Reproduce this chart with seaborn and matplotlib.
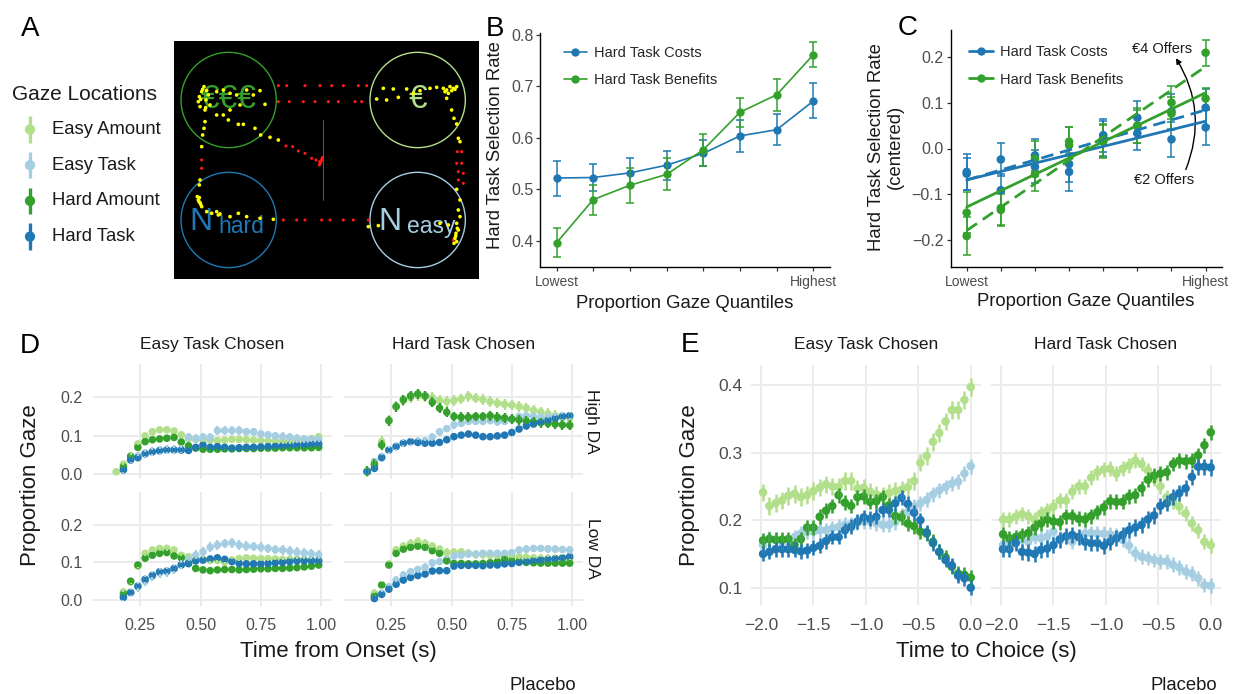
import numpy as np
import pandas as pd
import matplotlib
matplotlib.use("Agg")
import matplotlib.pyplot as plt
import seaborn as sns
from matplotlib.patches import Circle
from matplotlib.lines import Line2D

sns.set_theme(style="white")
plt.rcParams["font.family"] = ["Liberation Sans", "DejaVu Sans"]
plt.rcParams["axes.unicode_minus"] = True

nan = np.nan
# ------------------------------------------------------------------ data
location_names = ["Easy Amount", "Easy Task", "Hard Amount", "Hard Task"]
location_colors = ["#b2df8a", "#a6cee3", "#33a02c", "#1f78b4"]
palette = dict(zip(location_names, location_colors))

# Panel A: AOIs on the screen and one example gaze trace (screen units)
screen_w, screen_h = 915, 715
aoi_x = [164, 731, 164, 731]
aoi_y = [177, 177, 537, 537]
aoi_r = 143
aoi_loc = ["Hard Amount", "Easy Amount", "Hard Task", "Easy Task"]
aoi_text = ["€€€", "€", "N", "N"]
aoi_sub = ["", "", "hard", "easy"]

gaze_out_x = [313, 338, 393, 438, 473, 508, 553, 578, 313, 346, 388, 423, 463, 493, 543, 563,
              436, 440, 443, 446, 438, 437, 441, 444, 336, 356, 373, 393, 413, 426, 83, 83,
              328, 368, 393, 443, 468, 508, 538, 583, 850, 863, 848, 863, 853, 868, 853, 868, 838]
gaze_out_y = [134, 134, 134, 134, 134, 134, 134, 134, 182, 182, 182, 182, 182, 182, 182, 182,
              372, 365, 357, 349, 369, 362, 360, 353, 315, 317, 330, 337, 352, 357, 357, 382,
              537, 537, 537, 537, 537, 537, 537, 537, 332, 332, 367, 367, 392, 397, 417, 427, 597]
gaze_in_x = [90, 83, 76, 73, 78, 93, 98, 103, 96, 108, 86, 80, 95,
             128, 148, 168, 188, 218, 238, 258, 273, 198, 168, 148, 128, 163, 193, 208, 243, 260, 288, 313,
             93, 90, 86, 83,
             608, 628, 638, 658, 673, 698, 718, 738, 768, 788, 808, 818, 828, 838, 848, 823, 813, 833, 843,
             818, 833, 840, 848, 853, 858,
             848, 858, 853, 858,
             848, 850, 846, 843, 840, 848, 853, 845, 823, 798, 613, 583,
             78, 76, 70, 75, 83, 73, 78, 98, 113, 128, 133, 138, 168, 193, 218, 258, 298, 76, 80]
gaze_in_y = [137, 152, 167, 182, 197, 207, 149, 162, 177, 192, 145, 175, 200,
             152, 147, 157, 162, 147, 162, 149, 190, 192, 207, 222, 222, 237, 250, 250, 262, 282, 289, 297,
             242, 262, 282, 317,
             174, 142, 177, 144, 169, 144, 157, 149, 142, 139, 142, 147, 137, 142, 137, 157, 152, 149, 145,
             172, 207, 232, 249, 292, 302,
             445, 477, 507, 527,
             547, 562, 577, 592, 607, 602, 567, 585, 552, 547, 554, 557,
             417, 432, 467, 482, 497, 477, 485, 512, 517, 512, 522, 519, 527, 517, 527, 532, 535, 470, 490]
cross_x = [448, 448]
cross_y = [237, 477]

# Panel B: hard-task selection rate by proportion-gaze quantile
quantile_idx = [0, 1, 2, 3, 4, 5, 6, 7]
quantile_labels = ["Lowest", "", "", "", "", "", "", "Highest"]
costs_rate = [0.522, 0.523, 0.532, 0.547, 0.570, 0.604, 0.616, 0.672]
costs_se = [0.034, 0.026, 0.028, 0.028, 0.025, 0.031, 0.030, 0.034]
benefits_rate = [0.396, 0.480, 0.508, 0.529, 0.577, 0.650, 0.684, 0.762]
benefits_se = [0.028, 0.029, 0.034, 0.031, 0.031, 0.028, 0.031, 0.025]

# Panel C: centered selection rate, by offer amount
costs_2 = [-0.051, -0.091, -0.015, -0.034, 0.022, 0.067, 0.020, 0.046]
costs_4 = [-0.055, -0.024, -0.040, -0.051, 0.029, 0.033, 0.081, 0.089]
benefits_2 = [-0.140, -0.130, -0.022, 0.015, 0.018, 0.050, 0.076, 0.109]
benefits_4 = [-0.191, -0.134, -0.056, 0.007, 0.015, 0.049, 0.100, 0.209]
costs_2_se = [0.040, 0.036, 0.035, 0.040, 0.038, 0.036, 0.038, 0.038]
costs_4_se = [0.035, 0.036, 0.036, 0.042, 0.036, 0.036, 0.038, 0.040]
benefits_2_se = [0.045, 0.036, 0.038, 0.032, 0.036, 0.038, 0.036, 0.022]
benefits_4_se = [0.042, 0.034, 0.036, 0.040, 0.036, 0.036, 0.036, 0.028]

# Panel D: proportion gaze by time from onset
onset_time = [0.15, 0.18, 0.21, 0.24, 0.27, 0.30, 0.33, 0.36, 0.39, 0.42, 0.45, 0.48, 0.51, 0.54,
              0.57, 0.60, 0.63, 0.66, 0.69, 0.72, 0.75, 0.78, 0.81, 0.84, 0.87, 0.90, 0.93, 0.96, 0.99]
onset_easy_high = {
    "Easy Amount": [0.005, 0.025, 0.047, 0.078, 0.099, 0.110, 0.115, 0.115, 0.112, 0.102, 0.092, 0.090, 0.088, 0.088, 0.087,
                    0.088, 0.090, 0.090, 0.089, 0.088, 0.087, 0.086, 0.086, 0.085, 0.085, 0.086, 0.088, 0.092, 0.097],
    "Easy Task": [nan, 0.012, 0.040, 0.046, 0.054, 0.058, 0.062, 0.063, 0.063, 0.064, 0.096, 0.092, 0.096, 0.095, 0.113,
                  0.113, 0.113, 0.113, 0.110, 0.110, 0.104, 0.102, 0.099, 0.097, 0.096, 0.092, 0.091, 0.090, 0.090],
    "Hard Amount": [nan, 0.018, 0.045, 0.069, 0.084, 0.089, 0.091, 0.093, 0.095, 0.083, 0.073, 0.067, 0.064, 0.064, 0.064,
                    0.065, 0.065, 0.066, 0.066, 0.066, 0.067, 0.067, 0.067, 0.068, 0.068, 0.068, 0.068, 0.068, 0.069],
    "Hard Task": [nan, 0.010, 0.036, 0.042, 0.052, 0.057, 0.060, 0.062, 0.062, 0.062, 0.061, 0.069, 0.075, 0.069, 0.071,
                  0.069, 0.067, 0.068, 0.069, 0.069, 0.070, 0.071, 0.072, 0.073, 0.074, 0.075, 0.076, 0.077, 0.078],
}
onset_hard_high = {
    "Easy Amount": [0.005, 0.022, 0.084, 0.140, 0.176, 0.192, 0.200, 0.205, 0.202, 0.200, 0.192, 0.189, 0.192, 0.196, 0.203,
                    0.198, 0.194, 0.189, 0.185, 0.182, 0.180, 0.176, 0.172, 0.166, 0.162, 0.157, 0.152, 0.148, 0.145],
    "Easy Task": [0.007, 0.032, 0.045, 0.062, 0.072, 0.080, 0.084, 0.085, 0.086, 0.096, 0.110, 0.118, 0.128, 0.132, 0.137,
                  0.137, 0.137, 0.139, 0.136, 0.137, 0.143, 0.150, 0.152, 0.150, 0.148, 0.148, 0.150, 0.152, 0.152],
    "Hard Amount": [0.006, 0.025, 0.075, 0.139, 0.176, 0.194, 0.204, 0.209, 0.204, 0.187, 0.172, 0.161, 0.150, 0.148, 0.148,
                    0.150, 0.150, 0.152, 0.148, 0.146, 0.143, 0.141, 0.138, 0.136, 0.134, 0.132, 0.130, 0.128, 0.127],
    "Hard Task": [0.005, 0.014, 0.042, 0.062, 0.071, 0.080, 0.084, 0.082, 0.080, 0.080, 0.082, 0.089, 0.097, 0.101, 0.104,
                  0.101, 0.097, 0.097, 0.099, 0.101, 0.108, 0.117, 0.125, 0.130, 0.135, 0.140, 0.145, 0.150, 0.152],
}
onset_easy_low = {
    "Easy Amount": [nan, 0.022, 0.048, 0.090, 0.124, 0.133, 0.137, 0.137, 0.133, 0.119, 0.115, 0.110, 0.108, 0.105, 0.105,
                    0.100, 0.106, 0.110, 0.112, 0.111, 0.110, 0.110, 0.109, 0.108, 0.108, 0.108, 0.108, 0.107, 0.105],
    "Easy Task": [nan, 0.010, 0.020, 0.035, 0.050, 0.063, 0.072, 0.075, 0.082, 0.095, 0.106, 0.119, 0.128, 0.140, 0.146,
                  0.150, 0.152, 0.146, 0.143, 0.142, 0.140, 0.137, 0.134, 0.133, 0.130, 0.127, 0.125, 0.123, 0.120],
    "Hard Amount": [nan, 0.016, 0.050, 0.093, 0.111, 0.119, 0.124, 0.126, 0.117, 0.112, 0.097, 0.084, 0.080, 0.078, 0.080,
                    0.081, 0.081, 0.080, 0.081, 0.082, 0.083, 0.083, 0.084, 0.084, 0.085, 0.086, 0.088, 0.090, 0.093],
    "Hard Task": [nan, 0.007, 0.020, 0.037, 0.055, 0.066, 0.075, 0.077, 0.084, 0.093, 0.097, 0.104, 0.106, 0.109, 0.112,
                  0.108, 0.102, 0.097, 0.096, 0.096, 0.096, 0.097, 0.099, 0.100, 0.102, 0.104, 0.104, 0.104, 0.104],
}
onset_hard_low = {
    "Easy Amount": [nan, 0.018, 0.040, 0.095, 0.133, 0.143, 0.150, 0.155, 0.150, 0.143, 0.135, 0.126, 0.127, 0.128, 0.124,
                    0.121, 0.121, 0.119, 0.119, 0.117, 0.115, 0.115, 0.113, 0.112, 0.110, 0.110, 0.110, 0.110, 0.110],
    "Easy Task": [nan, 0.010, 0.018, 0.035, 0.053, 0.066, 0.075, 0.081, 0.087, 0.099, 0.102, 0.108, 0.117, 0.119, 0.122,
                  0.122, 0.124, 0.124, 0.124, 0.124, 0.126, 0.133, 0.135, 0.137, 0.137, 0.136, 0.135, 0.134, 0.133],
    "Hard Amount": [nan, 0.011, 0.040, 0.093, 0.124, 0.135, 0.140, 0.143, 0.140, 0.131, 0.124, 0.104, 0.097, 0.097, 0.096,
                    0.096, 0.097, 0.099, 0.102, 0.108, 0.104, 0.102, 0.100, 0.099, 0.098, 0.098, 0.098, 0.098, 0.098],
    "Hard Task": [nan, 0.004, 0.015, 0.029, 0.042, 0.053, 0.060, 0.065, 0.069, 0.077, 0.078, 0.078, 0.090, 0.092, 0.092,
                  0.092, 0.091, 0.093, 0.093, 0.096, 0.097, 0.100, 0.102, 0.104, 0.106, 0.108, 0.110, 0.112, 0.115],
}
onset_se = {
    ("Easy Task Chosen", "High DA"): {"Easy Amount": 0.006, "Easy Task": 0.011, "Hard Amount": 0.005, "Hard Task": 0.005},
    ("Hard Task Chosen", "High DA"): {"Easy Amount": 0.014, "Easy Task": 0.010, "Hard Amount": 0.013, "Hard Task": 0.006},
    ("Easy Task Chosen", "Low DA"): {"Easy Amount": 0.006, "Easy Task": 0.013, "Hard Amount": 0.005, "Hard Task": 0.006},
    ("Hard Task Chosen", "Low DA"): {"Easy Amount": 0.011, "Easy Task": 0.010, "Hard Amount": 0.008, "Hard Task": 0.007},
}

# Panel E: proportion gaze by time to choice
choice_time = [-1.98, -1.92, -1.86, -1.80, -1.74, -1.68, -1.62, -1.56, -1.50, -1.44, -1.38, -1.32,
               -1.26, -1.20, -1.14, -1.08, -1.02, -0.96, -0.90, -0.84, -0.78, -0.72, -0.66, -0.60,
               -0.54, -0.48, -0.42, -0.36, -0.30, -0.24, -0.18, -0.12, -0.06, 0.00]
choice_easy = {
    "Easy Amount": [0.241, 0.221, 0.225, 0.229, 0.236, 0.239, 0.234, 0.237, 0.243, 0.248, 0.253, 0.250, 0.249, 0.258, 0.258,
                    0.247, 0.248, 0.242, 0.238, 0.236, 0.240, 0.243, 0.245, 0.249, 0.258, 0.285, 0.295, 0.316, 0.329,
                    0.346, 0.363, 0.363, 0.378, 0.397],
    "Easy Task": [0.163, 0.173, 0.171, 0.168, 0.168, 0.175, 0.180, 0.183, 0.183, 0.185, 0.185, 0.188, 0.190, 0.193, 0.194,
                  0.196, 0.198, 0.198, 0.195, 0.193, 0.193, 0.197, 0.207, 0.212, 0.220, 0.225, 0.230, 0.238, 0.244,
                  0.249, 0.254, 0.257, 0.269, 0.280],
    "Hard Amount": [0.170, 0.172, 0.171, 0.171, 0.172, 0.163, 0.172, 0.189, 0.189, 0.205, 0.214, 0.221, 0.237, 0.226, 0.221,
                    0.234, 0.235, 0.227, 0.228, 0.234, 0.222, 0.206, 0.204, 0.195, 0.191, 0.183, 0.180, 0.168, 0.153,
                    0.145, 0.131, 0.121, 0.119, 0.115],
    "Hard Task": [0.150, 0.153, 0.157, 0.157, 0.157, 0.156, 0.154, 0.155, 0.159, 0.162, 0.169, 0.175, 0.175, 0.185, 0.190,
                  0.198, 0.204, 0.202, 0.205, 0.215, 0.215, 0.225, 0.233, 0.224, 0.211, 0.200, 0.182, 0.166, 0.153,
                  0.141, 0.133, 0.118, 0.114, 0.100],
}
choice_hard = {
    "Easy Amount": [0.201, 0.201, 0.205, 0.209, 0.206, 0.201, 0.210, 0.214, 0.220, 0.229, 0.229, 0.242, 0.250, 0.250, 0.263,
                    0.271, 0.275, 0.276, 0.269, 0.276, 0.281, 0.288, 0.283, 0.274, 0.261, 0.250, 0.234, 0.227, 0.220,
                    0.210, 0.195, 0.185, 0.168, 0.163],
    "Easy Task": [0.163, 0.167, 0.167, 0.171, 0.168, 0.175, 0.173, 0.176, 0.183, 0.173, 0.176, 0.168, 0.175, 0.180, 0.181,
                  0.180, 0.180, 0.179, 0.178, 0.171, 0.162, 0.151, 0.146, 0.144, 0.141, 0.139, 0.139, 0.134, 0.130,
                  0.124, 0.121, 0.114, 0.104, 0.103],
    "Hard Amount": [0.179, 0.173, 0.175, 0.178, 0.181, 0.189, 0.195, 0.201, 0.198, 0.197, 0.206, 0.206, 0.202, 0.201, 0.206,
                    0.212, 0.219, 0.228, 0.227, 0.227, 0.235, 0.237, 0.247, 0.260, 0.266, 0.269, 0.271, 0.283, 0.288,
                    0.287, 0.288, 0.296, 0.311, 0.330],
    "Hard Task": [0.157, 0.157, 0.166, 0.153, 0.152, 0.150, 0.156, 0.158, 0.163, 0.171, 0.176, 0.178, 0.175, 0.168, 0.166,
                  0.166, 0.162, 0.168, 0.173, 0.178, 0.185, 0.189, 0.193, 0.201, 0.207, 0.221, 0.225, 0.234, 0.240,
                  0.247, 0.264, 0.279, 0.279, 0.278],
}
choice_se = {
    "Easy Task Chosen": {"Easy Amount": 0.013, "Easy Task": 0.011, "Hard Amount": 0.011, "Hard Task": 0.011},
    "Hard Task Chosen": {"Easy Amount": 0.011, "Easy Task": 0.011, "Hard Amount": 0.011, "Hard Task": 0.012},
}

# ------------------------------------------------------------------ figure helpers
W, H = 1237, 694
fig = plt.figure(figsize=(W / 100, H / 100), dpi=100)
fig.patch.set_facecolor("white")
TXT = "#1a1a1a"
TICK = "#4d4d4d"


def px_axes(x0, y0, x1, y1):
    return fig.add_axes([x0 / W, 1 - y1 / H, (x1 - x0) / W, (y1 - y0) / H])


def ftext(x, y, s, **kw):
    kw.setdefault("color", TXT)
    return fig.text(x / W, 1 - y / H, s, **kw)


# ------------------------------------------------------------------ panel letters
for letter, (lx, ly) in zip("ABCDE", [(30, 29), (495, 29), (908, 28), (30, 346), (690, 345)]):
    ftext(lx, ly, letter, fontsize=20, ha="center", va="center", color="black")

# ------------------------------------------------------------------ A: legend
axl = px_axes(0, 70, 172, 262)
axl.set_xlim(0, 172)
axl.set_ylim(3.711, -1.667)
axl.axis("off")
axl.text(12, -0.97, "Gaze Locations", ha="left", va="center", fontsize=15, color=TXT)
for i, loc in enumerate(location_names):
    axl.vlines(30, i - 0.37, i + 0.37, color=palette[loc], lw=2.4)
    axl.scatter([30], [i], s=55, color=palette[loc], edgecolor="none", zorder=3)
    axl.text(52, i, loc, ha="left", va="center", fontsize=13.3, color=TXT)

# ------------------------------------------------------------------ A: gaze image
axa = px_axes(174, 41, 479, 279.3)
axa.set_facecolor("black")
axa.set_xlim(0, screen_w)
axa.set_ylim(screen_h, 0)
axa.set_xticks([])
axa.set_yticks([])
for s in axa.spines.values():
    s.set_visible(False)
for cx, cy, loc, txt, sub in zip(aoi_x, aoi_y, aoi_loc, aoi_text, aoi_sub):
    axa.add_patch(Circle((cx, cy), aoi_r, fill=False, ec=palette[loc], lw=1.0))
    if sub:
        axa.text(cx - 47, cy + 30, txt, ha="right", va="baseline", fontsize=23, color=palette[loc])
        axa.text(cx - 32, cy + 39, sub, ha="left", va="baseline", fontsize=16.5, color=palette[loc])
    else:
        axa.text(cx, cy, txt, ha="center", va="center", fontsize=24, color=palette[loc])
axa.plot(cross_x, cross_y, color="#5a5a5a", lw=0.7)
axa.scatter(gaze_out_x, gaze_out_y, s=5, color="#ff1a1a", edgecolor="none", zorder=3)
axa.scatter(gaze_in_x, gaze_in_y, s=7, color="#ffff00", edgecolor="none", zorder=3)


# ------------------------------------------------------------------ classic axes style
def classic(ax):
    ax.set_facecolor("white")
    ax.grid(False)
    for side in ["top", "right"]:
        ax.spines[side].set_visible(False)
    for side in ["left", "bottom"]:
        ax.spines[side].set_color("black")
        ax.spines[side].set_linewidth(1.0)
    ax.tick_params(direction="out", length=3, width=0.9, color="#333333",
                   labelcolor=TICK, left=True, bottom=True)


# ------------------------------------------------------------------ B
axb = px_axes(540, 33, 830, 267)
classic(axb)
df_b = pd.DataFrame({
    "quantile": quantile_idx * 2,
    "rate": costs_rate + benefits_rate,
    "se": costs_se + benefits_se,
    "type": ["Hard Task Costs"] * 8 + ["Hard Task Benefits"] * 8,
})
b_pal = {"Hard Task Costs": palette["Hard Task"], "Hard Task Benefits": palette["Hard Amount"]}
for typ in ["Hard Task Costs", "Hard Task Benefits"]:
    sub = df_b[df_b["type"] == typ]
    axb.errorbar(sub["quantile"], sub["rate"], yerr=sub["se"], fmt="none",
                 ecolor=b_pal[typ], elinewidth=1.1, capsize=2.6, capthick=1.1)
    sns.lineplot(data=sub, x="quantile", y="rate", color=b_pal[typ], marker="o",
                 markersize=6, markeredgewidth=0, linewidth=1.2, ax=axb, legend=False)
axb.set_xlim(-0.45, 7.45)
axb.set_ylim(0.349, 0.804)
axb.set_xticks(quantile_idx)
axb.set_xticklabels(quantile_labels, fontsize=10)
axb.set_yticks([0.4, 0.5, 0.6, 0.7, 0.8])
axb.set_yticklabels(["0.4", "0.5", "0.6", "0.7", "0.8"], fontsize=11.5)
axb.tick_params(axis="x", pad=3)
axb.tick_params(axis="y", pad=1.5)
axb.set_xlabel("")
axb.set_ylabel("")
hb = [Line2D([], [], color=b_pal[t], marker="o", ms=6, mew=0, lw=1.2) for t in b_pal]
axb.legend(hb, list(b_pal), loc="upper left", bbox_to_anchor=(0.082, 0.945), frameon=False,
           fontsize=10.5, handlelength=1.6, handletextpad=0.5, labelspacing=0.9,
           borderpad=0, borderaxespad=0)
ftext(685, 303, "Proportion Gaze Quantiles", fontsize=13.3, ha="center", va="center")
ftext(495, 145, "Hard Task Selection Rate", fontsize=13.3, ha="center", va="center", rotation=90)

# ------------------------------------------------------------------ C
axc = px_axes(951, 30, 1222, 267)
classic(axc)
df_c = pd.DataFrame({
    "quantile": quantile_idx * 4,
    "rate": costs_2 + costs_4 + benefits_2 + benefits_4,
    "se": costs_2_se + costs_4_se + benefits_2_se + benefits_4_se,
    "type": ["Hard Task Costs"] * 16 + ["Hard Task Benefits"] * 16,
    "offer": (["€2"] * 8 + ["€4"] * 8) * 2,
})
c_styles = [("€2", "-"), ("€4", (0, (4.5, 2.5)))]
for typ in ["Hard Task Costs", "Hard Task Benefits"]:
    for offer, ls in c_styles:
        sub = df_c[(df_c["type"] == typ) & (df_c["offer"] == offer)]
        axc.errorbar(sub["quantile"], sub["rate"], yerr=sub["se"], fmt="none",
                     ecolor=b_pal[typ], elinewidth=1.1, capsize=2.6, capthick=1.1)
        sns.scatterplot(data=sub, x="quantile", y="rate", color=b_pal[typ], s=38,
                        edgecolor="none", ax=axc, legend=False, zorder=3)
for typ in ["Hard Task Costs", "Hard Task Benefits"]:
    for offer, ls in c_styles:
        sub = df_c[(df_c["type"] == typ) & (df_c["offer"] == offer)]
        sns.regplot(data=sub, x="quantile", y="rate", scatter=False, ci=None, ax=axc,
                    color=b_pal[typ], line_kws=dict(lw=2.0, ls=ls, zorder=4))
axc.set_xlim(-0.46, 7.48)
axc.set_ylim(-0.2585, 0.2585)
axc.set_xticks(quantile_idx)
axc.set_xticklabels(quantile_labels, fontsize=10)
axc.set_yticks([-0.2, -0.1, 0.0, 0.1, 0.2])
axc.set_yticklabels(["\u22120.2", "\u22120.1", "0.0", "0.1", "0.2"], fontsize=11.5)
axc.tick_params(axis="x", pad=3)
axc.tick_params(axis="y", pad=2.5)
axc.set_xlabel("")
axc.set_ylabel("")
hc = [Line2D([], [], color=b_pal[t], marker="o", ms=6, mew=0, lw=2.0) for t in b_pal]
axc.legend(hc, list(b_pal), loc="upper left", bbox_to_anchor=(0.068, 0.935), frameon=False,
           fontsize=10.5, handlelength=1.6, handletextpad=0.5, labelspacing=0.9,
           borderpad=0, borderaxespad=0)
axc.text(5.72, 0.218, "€4 Offers", ha="center", va="center", fontsize=10.5, color=TXT)
axc.text(5.78, -0.069, "€2 Offers", ha="center", va="center", fontsize=10.5, color=TXT)
axc.annotate("", xy=(6.13, 0.197), xytext=(6.42, -0.046),
             arrowprops=dict(arrowstyle="-|>", lw=1.0, color="black", mutation_scale=8,
                             connectionstyle="arc3,rad=0.25", shrinkA=0, shrinkB=0))
ftext(1086, 302, "Proportion Gaze Quantiles", fontsize=13.3, ha="center", va="center")
ftext(886, 147, "Hard Task Selection Rate\n(centered)", fontsize=13.3, ha="center",
      va="center", rotation=90, linespacing=1.15)


# ------------------------------------------------------------------ D & E (minimal facets)
def minimal(ax, xlim, ylim, xticks, xlabels, yticks, ylabels, show_x, show_y, fs, xpad, ypad):
    ax.set_facecolor("white")
    for s in ax.spines.values():
        s.set_visible(False)
    ax.set_xlim(xlim)
    ax.set_ylim(ylim)
    ax.set_xticks(xticks)
    ax.set_yticks(yticks)
    ax.set_xticklabels(xlabels if show_x else [""] * len(xticks), fontsize=fs)
    ax.set_yticklabels(ylabels if show_y else [""] * len(yticks), fontsize=fs)
    ax.grid(True, color="#ebebeb", lw=1.4)
    ax.set_axisbelow(True)
    ax.tick_params(length=0, labelcolor=TICK, left=False, bottom=False)
    ax.tick_params(axis="x", pad=xpad)
    ax.tick_params(axis="y", pad=ypad)
    ax.set_xlabel("")
    ax.set_ylabel("")


def gaze_facet(ax, times, series, se_map, size, lw):
    df = pd.DataFrame([(t, loc, v) for loc in location_names for t, v in zip(times, series[loc])],
                      columns=["time", "location", "prop"]).dropna()
    for loc in location_names:
        sub = df[df["location"] == loc]
        ax.vlines(sub["time"], sub["prop"] - se_map[loc], sub["prop"] + se_map[loc],
                  color=palette[loc], lw=lw)
        sns.scatterplot(data=sub, x="time", y="prop", color=palette[loc], s=size,
                        edgecolor="none", linewidth=0, ax=ax, legend=False)


d_cols = ["Easy Task Chosen", "Hard Task Chosen"]
d_rows = ["High DA", "Low DA"]
d_series = {("Easy Task Chosen", "High DA"): onset_easy_high, ("Hard Task Chosen", "High DA"): onset_hard_high,
            ("Easy Task Chosen", "Low DA"): onset_easy_low, ("Hard Task Chosen", "Low DA"): onset_hard_low}
d_x = [(93.3, 331.7), (344.3, 582.7)]
d_y = [(364, 479.3), (491.7, 605.6)]
for ci, col in enumerate(d_cols):
    for ri, row in enumerate(d_rows):
        ax = px_axes(d_x[ci][0], d_y[ri][0], d_x[ci][1], d_y[ri][1])
        gaze_facet(ax, onset_time, d_series[(col, row)], onset_se[(col, row)], 30, 1.7)
        minimal(ax, (0.055, 1.044), (-0.0147, 0.2875), [0.25, 0.5, 0.75, 1.0],
                ["0.25", "0.50", "0.75", "1.00"], [0.0, 0.1, 0.2], ["0.0", "0.1", "0.2"],
                ri == 1, ci == 0, 11.5, 9.0, 7.5)
    ftext((d_x[ci][0] + d_x[ci][1]) / 2, 345, col, fontsize=12.5, ha="center", va="center")
for ri, row in enumerate(d_rows):
    ftext(592, (d_y[ri][0] + d_y[ri][1]) / 2, row, fontsize=12.5, ha="center", va="center", rotation=270)
ftext(31, 485, "Proportion Gaze", fontsize=16, ha="center", va="center", rotation=90)
ftext(338, 652, "Time from Onset (s)", fontsize=16, ha="center", va="center")
ftext(543, 685, "Placebo", fontsize=13.3, ha="center", va="center")

e_series = {"Easy Task Chosen": choice_easy, "Hard Task Chosen": choice_hard}
e_x = [(750.5, 981.2), (990.5, 1221.2)]
for ci, col in enumerate(d_cols):
    ax = px_axes(e_x[ci][0], 365, e_x[ci][1], 605)
    gaze_facet(ax, choice_time, e_series[col], choice_se[col], 38, 1.8)
    minimal(ax, (-2.1, 0.1), (0.0744, 0.4296), [-2.0, -1.5, -1.0, -0.5, 0.0],
            ["\u22122.0", "\u22121.5", "\u22121.0", "\u22120.5", "0.0"], [0.1, 0.2, 0.3, 0.4],
            ["0.1", "0.2", "0.3", "0.4"], True, ci == 0, 12.5, 9.0, 5.5)
    ftext((e_x[ci][0] + e_x[ci][1]) / 2, 345, col, fontsize=12.5, ha="center", va="center")
ftext(690, 485, "Proportion Gaze", fontsize=16, ha="center", va="center", rotation=90)
ftext(986, 652, "Time to Choice (s)", fontsize=16, ha="center", va="center")
ftext(1184, 685, "Placebo", fontsize=13.3, ha="center", va="center")

fig.savefig("out.png", dpi=100, facecolor="white")
